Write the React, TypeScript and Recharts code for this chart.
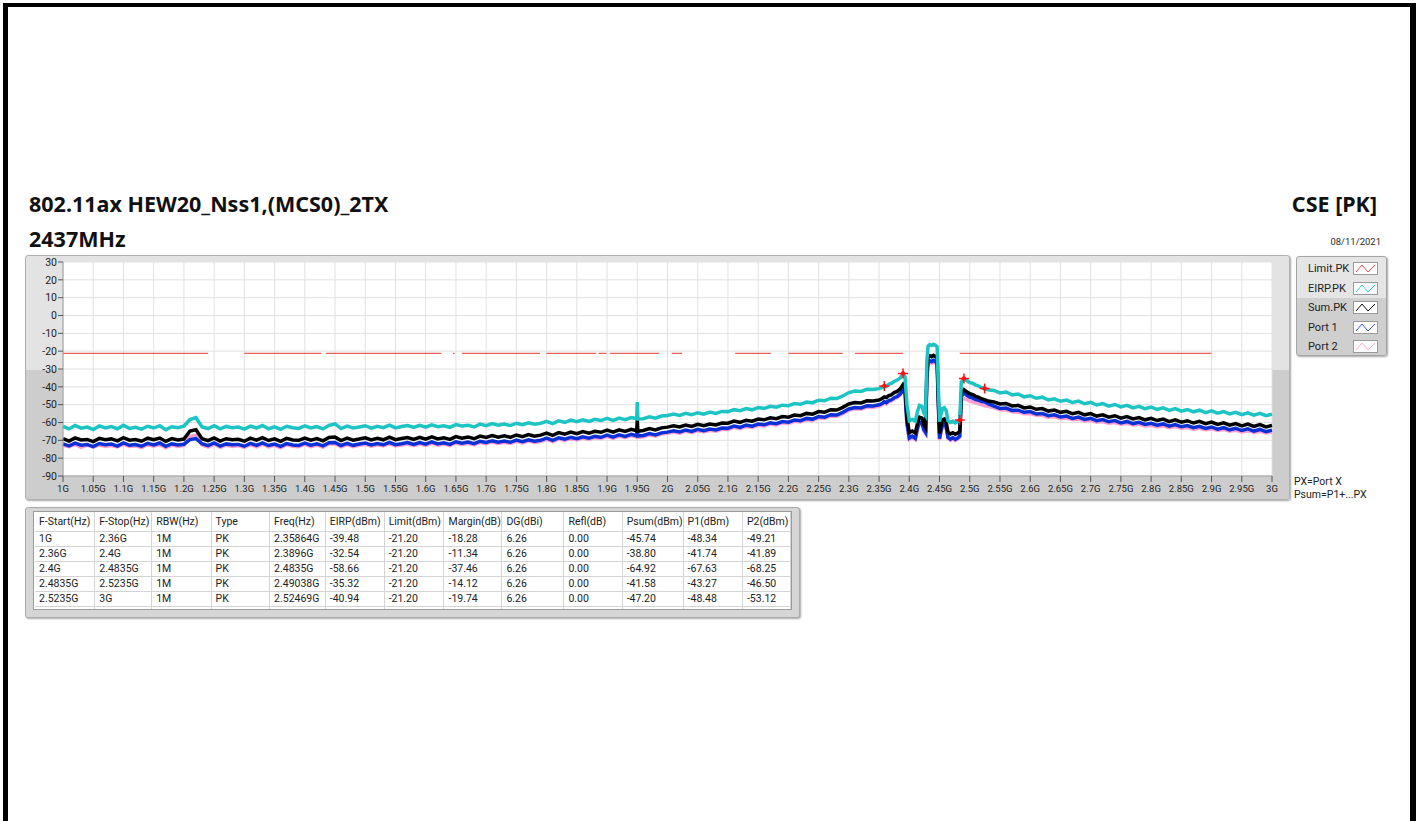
import React from 'react';
import { ComposedChart, Line, Scatter, XAxis, YAxis, CartesianGrid } from 'recharts';

// ---- trace data (GHz / dBm) ----
const FREQ = [
  1.00, 1.01, 1.02, 1.03, 1.04, 1.05, 1.06, 1.07, 1.08, 1.09,
  1.10, 1.11, 1.12, 1.13, 1.14, 1.15, 1.16, 1.17, 1.18, 1.19,
  1.20, 1.21, 1.22, 1.23, 1.24, 1.25, 1.26, 1.27, 1.28, 1.29,
  1.30, 1.31, 1.32, 1.33, 1.34, 1.35, 1.36, 1.37, 1.38, 1.39,
  1.40, 1.41, 1.42, 1.43, 1.44, 1.45, 1.46, 1.47, 1.48, 1.49,
  1.50, 1.51, 1.52, 1.53, 1.54, 1.55, 1.56, 1.57, 1.58, 1.59,
  1.60, 1.61, 1.62, 1.63, 1.64, 1.65, 1.66, 1.67, 1.68, 1.69,
  1.70, 1.71, 1.72, 1.73, 1.74, 1.75, 1.76, 1.77, 1.78, 1.79,
  1.80, 1.81, 1.82, 1.83, 1.84, 1.85, 1.86, 1.87, 1.88, 1.89,
  1.90, 1.91, 1.92, 1.93, 1.94, 1.949, 1.95, 1.951, 1.96, 1.97, 1.98, 1.99,
  2.00, 2.01, 2.02, 2.03, 2.04, 2.05, 2.06, 2.07, 2.08, 2.09,
  2.10, 2.11, 2.12, 2.13, 2.14, 2.15, 2.16, 2.17, 2.18, 2.19,
  2.20, 2.21, 2.22, 2.23, 2.24, 2.25, 2.26, 2.27, 2.28, 2.29,
  2.30, 2.31, 2.32, 2.33, 2.34,
  // band edge / in-band region
  2.35, 2.355, 2.3586, 2.362, 2.366, 2.37, 2.375, 2.38, 2.385, 2.3896,
  2.393, 2.396, 2.40, 2.405, 2.41, 2.414, 2.417, 2.421, 2.424, 2.427,
  2.429, 2.431, 2.434, 2.437, 2.44, 2.443, 2.446, 2.448, 2.45, 2.452,
  2.455, 2.458, 2.461, 2.464, 2.468, 2.472, 2.476, 2.48, 2.4835, 2.486,
  2.4904, 2.495, 2.50, 2.505, 2.51, 2.515, 2.52, 2.5247, 2.53,
  // upper side
  2.54, 2.55, 2.56, 2.57, 2.58, 2.59,
  2.60, 2.61, 2.62, 2.63, 2.64, 2.65, 2.66, 2.67, 2.68, 2.69,
  2.70, 2.71, 2.72, 2.73, 2.74, 2.75, 2.76, 2.77, 2.78, 2.79,
  2.80, 2.81, 2.82, 2.83, 2.84, 2.85, 2.86, 2.87, 2.88, 2.89,
  2.90, 2.91, 2.92, 2.93, 2.94, 2.95, 2.96, 2.97, 2.98, 2.99,
  3.00,
];

const EIRP = [
  -62.2, -63.6, -61.7, -63.2, -62.6, -63.9, -61.9, -63.0, -62.3, -63.5,
  -61.6, -63.3, -62.7, -63.7, -62.1, -63.1, -61.8, -64.0, -62.4, -62.9,
  -62.0, -58.4, -57.3, -62.5, -63.4, -61.8, -63.6, -62.2, -63.0, -62.6,
  -63.7, -62.0, -63.1, -61.7, -63.5, -62.4, -63.8, -62.1, -62.9, -63.3,
  -61.9, -63.0, -62.3, -63.6, -61.6, -60.8, -63.4, -62.0, -63.1, -62.5,
  -61.8, -63.2, -62.1, -62.9, -61.5, -63.0, -62.2, -61.7, -62.8, -61.6,
  -62.6, -61.3, -62.4, -61.9, -62.7, -61.2, -62.0, -61.5, -62.5, -60.9,
  -61.8, -60.6, -61.5, -60.9, -61.7, -60.4, -61.2, -60.2, -61.0, -60.5,
  -59.3, -60.6, -59.1, -59.9, -58.7, -59.6, -58.5, -59.4, -58.2, -58.9,
  -57.7, -58.8, -57.5, -58.4, -57.2, -57.8, -48.6, -58.0, -57.9, -56.8, -57.6, -56.4,
  -56.1, -55.2, -56.0, -54.9, -55.6, -54.5, -55.3, -54.2, -54.9, -53.8,
  -53.9, -52.8, -53.4, -52.2, -52.9, -51.6, -52.1, -50.9, -51.4, -50.3,
  -50.6, -49.4, -49.8, -48.5, -48.9, -47.5, -47.8, -46.4, -46.6, -45.1,
  -43.2, -42.4, -42.6, -41.4, -41.5,
  -41.0, -40.3, -39.5, -39.8, -38.6, -38.1, -37.0, -36.2, -35.0, -32.6,
  -34.5, -50.0, -59.0, -58.3, -59.2, -53.2, -50.4, -51.0, -54.6, -56.2,
  -26.0, -17.2, -16.3, -16.8, -16.1, -16.7, -17.6, -40.0, -59.6, -56.0,
  -52.2, -51.7, -53.4, -59.0, -60.0, -59.3, -60.2, -59.5, -58.7, -37.4,
  -35.3, -36.5, -37.6, -38.1, -39.0, -39.6, -40.5, -40.9, -41.7,
  -42.0, -43.4, -42.9, -44.5, -44.0, -45.6,
  -45.0, -46.4, -45.8, -47.4, -46.7, -48.1, -47.4, -48.8, -48.0, -49.5,
  -48.7, -50.2, -49.4, -50.8, -49.9, -51.3, -50.4, -51.8, -50.9, -52.3,
  -51.4, -52.7, -51.8, -53.2, -52.2, -53.6, -52.7, -54.0, -53.1, -54.5,
  -53.5, -54.8, -53.9, -55.2, -54.3, -55.6, -54.6, -55.9, -54.9, -56.2,
  -55.3,
];

const SUM = [
  -69.1, -70.4, -68.6, -69.8, -69.5, -70.7, -68.9, -69.6, -69.2, -70.3,
  -68.5, -69.9, -69.6, -70.5, -68.8, -69.7, -68.7, -70.6, -69.0, -69.8,
  -69.3, -64.8, -64.1, -69.1, -70.2, -68.6, -70.4, -69.1, -69.7, -69.4,
  -70.5, -68.8, -69.9, -68.5, -70.1, -69.2, -70.6, -68.9, -69.8, -70.0,
  -68.7, -69.9, -69.0, -70.3, -68.4, -68.2, -70.1, -68.8, -69.9, -69.3,
  -68.6, -69.8, -68.9, -69.7, -68.2, -69.6, -69.0, -68.4, -69.5, -68.3,
  -69.3, -68.0, -69.2, -68.6, -69.5, -67.9, -68.8, -68.1, -69.1, -67.6,
  -68.4, -67.3, -68.2, -67.5, -68.3, -67.0, -67.9, -66.8, -67.7, -67.1,
  -66.0, -67.2, -65.7, -66.5, -65.4, -66.3, -65.1, -66.0, -64.9, -65.5,
  -64.3, -65.4, -64.1, -65.0, -63.8, -64.6, -58.5, -64.9, -64.5, -63.4, -64.2, -63.0,
  -62.6, -61.9, -62.5, -61.4, -62.2, -61.0, -61.8, -60.9, -61.4, -60.3,
  -60.4, -59.2, -59.9, -58.7, -59.3, -58.1, -58.5, -57.4, -57.9, -56.7,
  -57.0, -55.8, -56.2, -54.9, -55.3, -53.9, -54.2, -52.8, -53.0, -51.5,
  -49.6, -48.8, -49.0, -47.8, -47.9,
  -47.4, -46.5, -45.7, -46.0, -44.9, -44.5, -43.2, -42.6, -41.2, -38.8,
  -40.9, -57.0, -65.6, -64.8, -65.9, -59.8, -57.0, -57.5, -61.0, -62.7,
  -32.5, -23.5, -22.6, -23.1, -22.4, -23.0, -23.9, -46.5, -66.2, -62.6,
  -58.5, -58.0, -59.8, -65.5, -66.4, -65.7, -66.6, -65.9, -64.9, -43.6,
  -41.6, -42.8, -43.9, -44.4, -45.3, -45.9, -46.8, -47.2, -48.0,
  -48.5, -49.6, -49.3, -50.7, -50.4, -51.8,
  -51.3, -52.6, -52.2, -53.6, -53.0, -54.3, -53.7, -55.1, -54.3, -55.7,
  -55.0, -56.4, -55.7, -57.0, -56.2, -57.6, -56.7, -58.0, -57.2, -58.5,
  -57.7, -58.9, -58.1, -59.5, -58.5, -59.8, -59.0, -60.3, -59.4, -60.7,
  -59.8, -61.1, -60.2, -61.5, -60.6, -61.9, -60.9, -62.2, -61.2, -62.5,
  -61.6,
];

const P1 = [
  -72.0, -73.1, -71.6, -72.7, -72.3, -73.5, -71.8, -72.5, -72.1, -73.2,
  -71.4, -72.8, -72.4, -73.3, -71.7, -72.6, -71.5, -73.4, -71.9, -72.6,
  -72.2, -69.6, -69.0, -71.9, -73.0, -71.5, -73.2, -72.0, -72.5, -72.3,
  -73.3, -71.7, -72.8, -71.4, -72.9, -72.1, -73.4, -71.8, -72.6, -72.9,
  -71.6, -72.7, -71.9, -73.1, -71.3, -71.2, -72.9, -71.7, -72.8, -72.1,
  -71.5, -72.6, -71.8, -72.5, -71.1, -72.4, -71.9, -71.2, -72.3, -71.2,
  -72.1, -70.9, -72.0, -71.4, -72.3, -70.8, -71.6, -71.0, -71.9, -70.5,
  -71.2, -70.2, -71.0, -70.4, -71.1, -69.9, -70.7, -69.7, -70.5, -70.0,
  -68.8, -70.0, -68.6, -69.3, -68.3, -69.1, -68.0, -68.8, -67.8, -68.3,
  -67.1, -68.2, -66.9, -67.8, -66.6, -67.4, -63.0, -67.6, -67.3, -66.2, -67.0, -65.8,
  -65.4, -64.7, -65.3, -64.2, -65.0, -63.8, -64.6, -63.7, -64.2, -63.1,
  -63.2, -62.0, -62.7, -61.5, -62.1, -60.9, -61.3, -60.2, -60.7, -59.5,
  -59.8, -58.6, -59.0, -57.7, -58.1, -56.7, -57.0, -55.6, -55.8, -54.3,
  -52.4, -51.6, -51.8, -50.6, -50.7,
  -50.1, -49.4, -48.3, -48.9, -47.7, -47.3, -46.1, -45.4, -44.0, -41.7,
  -43.6, -60.0, -68.7, -67.6, -68.9, -62.6, -59.8, -60.4, -64.0, -65.6,
  -35.4, -26.4, -25.4, -25.9, -25.2, -25.8, -26.8, -49.3, -69.1, -65.4,
  -61.3, -60.8, -62.6, -68.4, -69.3, -68.5, -69.5, -68.7, -67.6, -45.4,
  -43.3, -44.8, -45.8, -46.3, -47.1, -47.6, -48.3, -48.5, -49.4,
  -50.8, -52.1, -51.9, -53.2, -53.1, -54.3,
  -53.9, -55.2, -54.9, -56.2, -55.7, -56.9, -56.4, -57.7, -57.0, -58.3,
  -57.7, -59.0, -58.4, -59.6, -58.9, -60.2, -59.4, -60.6, -59.9, -61.1,
  -60.4, -61.5, -60.8, -62.1, -61.2, -62.4, -61.7, -62.9, -62.1, -63.3,
  -62.5, -63.7, -62.9, -64.1, -63.3, -64.5, -63.6, -64.8, -63.9, -65.1,
  -64.3,
];

const P2 = [
  -72.8, -73.6, -72.3, -73.9, -72.7, -73.8, -72.6, -73.4, -72.9, -73.7,
  -72.2, -73.5, -73.0, -74.1, -72.5, -73.3, -72.4, -74.2, -72.6, -73.4,
  -72.9, -67.8, -67.2, -72.7, -73.8, -72.1, -73.9, -72.7, -73.4, -72.9,
  -74.0, -72.4, -73.6, -72.1, -73.7, -72.8, -74.2, -72.5, -73.3, -73.6,
  -72.3, -73.5, -72.6, -73.9, -72.0, -72.0, -73.6, -72.4, -73.5, -72.8,
  -72.2, -73.3, -72.5, -73.2, -71.8, -73.1, -72.6, -71.9, -73.0, -71.9,
  -72.8, -71.6, -72.7, -72.1, -73.0, -71.5, -72.3, -71.7, -72.6, -71.2,
  -71.9, -70.9, -71.7, -71.1, -71.8, -70.6, -71.4, -70.4, -71.2, -70.7,
  -69.5, -70.7, -69.3, -70.0, -69.0, -69.8, -68.7, -69.5, -68.5, -69.0,
  -67.8, -68.9, -67.6, -68.5, -67.3, -68.2, -65.0, -68.3, -68.0, -66.9, -67.7, -66.5,
  -66.1, -65.4, -66.0, -64.9, -65.7, -64.5, -65.3, -64.4, -64.9, -63.8,
  -63.9, -62.7, -63.4, -62.2, -62.8, -61.6, -62.0, -60.9, -61.4, -60.2,
  -60.5, -59.3, -59.7, -58.4, -58.8, -57.4, -57.7, -56.3, -56.5, -55.0,
  -53.1, -52.3, -52.5, -51.3, -51.4,
  -50.9, -50.0, -49.2, -49.6, -48.4, -48.0, -46.8, -46.0, -44.6, -41.9,
  -44.2, -60.8, -69.4, -68.5, -69.6, -63.4, -60.5, -61.2, -64.8, -66.3,
  -36.2, -27.2, -26.3, -26.8, -26.1, -26.7, -27.6, -50.0, -69.8, -66.0,
  -62.0, -61.5, -63.3, -69.0, -70.0, -69.2, -70.1, -69.3, -68.3, -47.5,
  -46.5, -47.2, -48.0, -48.4, -49.0, -49.5, -50.1, -50.6, -50.9,
  -51.7, -52.9, -53.0, -54.0, -54.2, -55.1,
  -55.0, -55.9, -56.0, -57.0, -56.8, -57.7, -57.5, -58.4, -58.1, -59.1,
  -58.7, -59.8, -59.5, -60.4, -60.0, -61.0, -60.5, -61.4, -61.0, -61.9,
  -61.5, -62.3, -61.9, -62.9, -62.3, -63.2, -62.8, -63.7, -63.2, -64.1,
  -63.6, -64.5, -64.0, -64.9, -64.4, -65.3, -64.7, -65.6, -65.0, -65.9,
  -65.3,
];

// limit line: -21.2 dBm, drawn only on these spans (GHz)
const LIMIT_DBM = -21.2;
const LIMIT_SPANS: [number, number][] = [
  [1.0, 1.24], [1.30, 1.427], [1.435, 1.626], [1.645, 1.648], [1.66, 1.789],
  [1.80, 1.882], [1.886, 1.899], [1.905, 1.986], [2.007, 2.024], [2.112, 2.171],
  [2.20, 2.29], [2.31, 2.39], [2.4835, 2.90],
];

// peak markers (same values as the table)
const MARK_FREQ = [2.35864, 2.3896, 2.4835, 2.49038, 2.52469];
const MARK_EIRP = [-39.48, -32.54, -58.66, -35.32, -40.94];

const X_TICKS = [
  1, 1.05, 1.1, 1.15, 1.2, 1.25, 1.3, 1.35, 1.4, 1.45, 1.5, 1.55, 1.6, 1.65,
  1.7, 1.75, 1.8, 1.85, 1.9, 1.95, 2, 2.05, 2.1, 2.15, 2.2, 2.25, 2.3, 2.35,
  2.4, 2.45, 2.5, 2.55, 2.6, 2.65, 2.7, 2.75, 2.8, 2.85, 2.9, 2.95, 3,
];
const Y_TICKS = [30, 20, 10, 0, -10, -20, -30, -40, -50, -60, -70, -80, -90];

const LEGEND_NAMES = ['Limit.PK', 'EIRP.PK', 'Sum.PK', 'Port 1', 'Port 2'];
const LEGEND_COLORS = ['#ff4a4a', '#35d2d2', '#111111', '#3557e0', '#ffaad4'];

const TABLE_HEAD = [
  'F-Start(Hz)', 'F-Stop(Hz)', 'RBW(Hz)', 'Type', 'Freq(Hz)', 'EIRP(dBm)', 'Limit(dBm)',
  'Margin(dB)', 'DG(dBi)', 'Refl(dB)', 'Psum(dBm)', 'P1(dBm)', 'P2(dBm)',
];
const TABLE_ROWS = [
  ['1G', '2.36G', '1M', 'PK', '2.35864G', '-39.48', '-21.20', '-18.28', '6.26', '0.00', '-45.74', '-48.34', '-49.21'],
  ['2.36G', '2.4G', '1M', 'PK', '2.3896G', '-32.54', '-21.20', '-11.34', '6.26', '0.00', '-38.80', '-41.74', '-41.89'],
  ['2.4G', '2.4835G', '1M', 'PK', '2.4835G', '-58.66', '-21.20', '-37.46', '6.26', '0.00', '-64.92', '-67.63', '-68.25'],
  ['2.4835G', '2.5235G', '1M', 'PK', '2.49038G', '-35.32', '-21.20', '-14.12', '6.26', '0.00', '-41.58', '-43.27', '-46.50'],
  ['2.5235G', '3G', '1M', 'PK', '2.52469G', '-40.94', '-21.20', '-19.74', '6.26', '0.00', '-47.20', '-48.48', '-53.12'],
];
const COL_W = [60, 57, 60, 60, 56, 59, 60, 58, 63, 59, 56, 60, 48];

const rows = FREQ.map((f, i) => ({ f, eirp: EIRP[i], sum: SUM[i], p1: P1[i], p2: P2[i] }));

const limitRows: { f: number; lim: number | null }[] = [];
LIMIT_SPANS.forEach(([a, b], i) => {
  limitRows.push({ f: a, lim: LIMIT_DBM }, { f: b, lim: LIMIT_DBM });
  if (i < LIMIT_SPANS.length - 1) limitRows.push({ f: (b + LIMIT_SPANS[i + 1][0]) / 2, lim: null });
});

const markRows = MARK_FREQ.map((f, i) => ({ f, mark: MARK_EIRP[i] }));

const UI_FONT = 'Roboto, "Noto Sans", sans-serif';
const TITLE_FONT = '"Noto Sans", sans-serif';

function PeakMark(props: any) {
  const { cx, cy } = props;
  if (cx == null || cy == null) return null;
  return (
    <g>
      <path d={`M${cx - 5},${cy}L${cx + 5},${cy}M${cx},${cy - 5}L${cx},${cy + 5}`} stroke="#ff1111" strokeWidth={1.5} />
      <circle cx={cx} cy={cy} r={2.2} fill="#ff1111" />
    </g>
  );
}

function TraceLegend() {
  return (
    <div style={{
      position: 'absolute', left: 1296, top: 256, width: 91, height: 100, boxSizing: 'border-box',
      border: '1px solid #a4a4a4', borderRadius: 3, boxShadow: '1px 1px 2px rgba(0,0,0,0.35)',
      background: 'linear-gradient(to bottom, #e5e5e5 0%, #e5e5e5 42%, #cfcfcf 42%, #cfcfcf 100%)',
    }}>
      {LEGEND_NAMES.map((name, i) => (
        <div key={name} style={{ position: 'absolute', left: 0, top: 3 + i * 19.5, width: 89, height: 18 }}>
          <span style={{ position: 'absolute', left: 11, top: 2, fontSize: 11, lineHeight: '14px', color: '#222', fontFamily: UI_FONT }}>
            {name}
          </span>
          <svg width={25} height={13} style={{ position: 'absolute', left: 56, top: 2 }}>
            <rect x={0.5} y={0.5} width={24} height={12} fill="#fff" stroke="#9a9a9a" />
            <polyline points="3,10 9,3 15,10 22,3" fill="none" stroke={LEGEND_COLORS[i]} strokeWidth={1} />
          </svg>
        </div>
      ))}
    </div>
  );
}

function ResultTable() {
  return (
    <>
      <div style={{
        position: 'absolute', left: 25, top: 507, width: 775, height: 111, boxSizing: 'border-box',
        border: '1px solid #ababab', borderRadius: 3, background: '#d6d6d6',
        boxShadow: '1px 1px 2px rgba(0,0,0,0.35)',
      }} />
      <div style={{
        position: 'absolute', left: 33, top: 511, width: 759, height: 99, boxSizing: 'border-box',
        border: '1px solid #9c9c9c', background: '#fff', overflow: 'hidden',
      }}>
        <table style={{
          borderCollapse: 'collapse', tableLayout: 'fixed', marginLeft: 1,
          fontFamily: UI_FONT, fontSize: 10.5, color: '#222',
        }}>
          <colgroup>
            {COL_W.map((w, i) => <col key={i} style={{ width: w }} />)}
          </colgroup>
          <tbody>
            <tr style={{ height: 19 }}>
              {TABLE_HEAD.map((h) => (
                <td key={h} style={{ borderRight: '1px solid #d4d4d4', borderBottom: '1px solid #d4d4d4', padding: '0 0 0 4px', whiteSpace: 'nowrap', overflow: 'hidden' }}>{h}</td>
              ))}
            </tr>
            {TABLE_ROWS.map((r, ri) => (
              <tr key={ri} style={{ height: 15 }}>
                {r.map((c, ci) => (
                  <td key={ci} style={{ borderRight: '1px solid #d4d4d4', borderBottom: '1px solid #d4d4d4', padding: '0 0 0 4px', whiteSpace: 'nowrap', lineHeight: '14px' }}>{c}</td>
                ))}
              </tr>
            ))}
            <tr style={{ height: 6 }}>
              {COL_W.map((_, ci) => <td key={ci} style={{ borderRight: '1px solid #d4d4d4', padding: 0 }} />)}
            </tr>
          </tbody>
        </table>
      </div>
    </>
  );
}

export default function App() {
  const titleStyle = { position: 'absolute' as const, fontFamily: TITLE_FONT, fontWeight: 700, fontSize: 21.5, lineHeight: '26px', color: '#111' };
  return (
    <div style={{ position: 'fixed', left: 0, top: 0, width: 1416, height: 821, background: '#fff', overflow: 'hidden', fontFamily: UI_FONT }}>
      {/* window frame */}
      <div style={{
        position: 'absolute', left: 3, top: 3, width: 1413, height: 900, boxSizing: 'border-box',
        borderTop: '4px solid #000', borderLeft: '5px solid #000', borderRight: '6px solid #000',
      }} />

      <div style={{ ...titleStyle, left: 29, top: 191 }}>802.11ax HEW20_Nss1,(MCS0)_2TX</div>
      <div style={{ ...titleStyle, left: 29, top: 226 }}>2437MHz</div>
      <div style={{ ...titleStyle, right: 1416 - 1377, top: 191 }}>CSE [PK]</div>
      <div style={{ position: 'absolute', right: 1416 - 1381, top: 236, fontSize: 9.5, lineHeight: '12px', color: '#2a2a2a' }}>
        08/11/2021
      </div>

      {/* graph panel */}
      <div style={{
        position: 'absolute', left: 25, top: 255, width: 1265, height: 245, boxSizing: 'border-box',
        border: '1px solid #b0b0b0', borderRadius: 3, boxShadow: '1px 1px 2px rgba(0,0,0,0.35)',
        background: 'linear-gradient(to bottom, #e3e3e3 0%, #e3e3e3 47%, #cdcdcd 47%, #cdcdcd 100%)',
      }} />
      <div style={{ position: 'absolute', left: 25, top: 255 }}>
        <ComposedChart width={1265} height={245} data={rows} margin={{ top: 7, right: 18, bottom: 0, left: 0 }}>
          <CartesianGrid stroke="#e1e1e1" fill="#ffffff" />
          <XAxis
            dataKey="f" type="number" domain={[1, 3]} ticks={X_TICKS} interval={0} height={24}
            tickFormatter={(v: number) => `${v}G`}
            tick={{ fontSize: 9.5, fill: '#222', fontFamily: UI_FONT }}
            tickSize={6} tickMargin={3}
            axisLine={{ stroke: '#9a9a9a' }} tickLine={{ stroke: '#555' }}
          />
          <YAxis
            type="number" domain={[-90, 30]} ticks={Y_TICKS} interval={0} width={38}
            tick={{ fontSize: 10.5, fill: '#222', fontFamily: UI_FONT }}
            tickSize={5} tickMargin={1}
            axisLine={{ stroke: '#9a9a9a' }} tickLine={{ stroke: '#555' }}
          />
          <Line data={limitRows} dataKey="lim" stroke="#e3392f" strokeWidth={1} dot={false} activeDot={false} isAnimationActive={false} />
          <Line dataKey="p2" stroke="#ff9fd0" strokeWidth={3.5} dot={false} activeDot={false} isAnimationActive={false} />
          <Line dataKey="p1" stroke="#0b30d6" strokeWidth={3.5} dot={false} activeDot={false} isAnimationActive={false} />
          <Line dataKey="sum" stroke="#000000" strokeWidth={3.5} dot={false} activeDot={false} isAnimationActive={false} />
          <Line dataKey="eirp" stroke="#1cc4c4" strokeWidth={3.5} dot={false} activeDot={false} isAnimationActive={false} />
          <Scatter data={markRows} dataKey="mark" shape={(p: any) => <PeakMark {...p} />} isAnimationActive={false} />
        </ComposedChart>
      </div>

      <div style={{ position: 'absolute', left: 1294, top: 475, fontSize: 10.5, lineHeight: '13px', color: '#222' }}>
        PX=Port X<br />Psum=P1+...PX
      </div>

      <TraceLegend />
      <ResultTable />
    </div>
  );
}
